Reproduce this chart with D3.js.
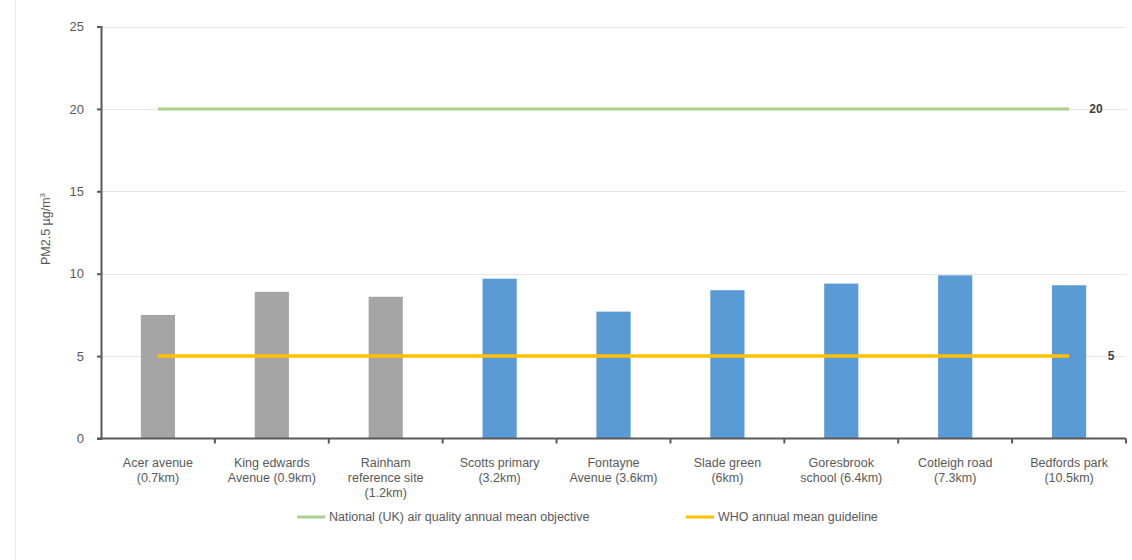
<!DOCTYPE html>
<html><head><meta charset="utf-8">
<script src="https://cdn.jsdelivr.net/npm/d3@7"></script>
<style>body{margin:0;background:#fff}svg{display:block}text{font-family:"Liberation Sans",Arial,sans-serif;fill:#595959}</style>
</head><body><svg id="c" width="1132" height="560"></svg>
<script>
const categories = [
  ["Acer avenue","(0.7km)"],
  ["King edwards","Avenue (0.9km)"],
  ["Rainham","reference site","(1.2km)"],
  ["Scotts primary","(3.2km)"],
  ["Fontayne","Avenue (3.6km)"],
  ["Slade green","(6km)"],
  ["Goresbrook","school (6.4km)"],
  ["Cotleigh road","(7.3km)"],
  ["Bedfords park","(10.5km)"]
];
const pmValues = [7.5, 8.9, 8.6, 9.7, 7.7, 9.0, 9.4, 9.9, 9.3];
const siteGroup = ["ref","ref","ref","site","site","site","site","site","site"];
const ukObjective = [20,20,20,20,20,20,20,20,20];
const whoGuideline = [5,5,5,5,5,5,5,5,5];
const yTicks = [0,5,10,15,20,25];
const seriesNames = ["National (UK) air quality annual mean objective","WHO annual mean guideline"];

const svg = d3.select("#c");
const m = {l:101, r:1126, t:26.5, b:438.5};
const keys = categories.map((d,i)=>i);
const x = d3.scaleBand().domain(keys).range([m.l,m.r]).paddingInner(0.7).paddingOuter(0.35);
const y = d3.scaleLinear().domain([0,25]).range([m.b,m.t]);

// faint left border
svg.append("line").attr("x1",15.5).attr("x2",15.5).attr("y1",0).attr("y2",560).attr("stroke","#ececec");

// gridlines
svg.append("g").selectAll("line").data(yTicks.filter(d=>d>0)).join("line")
  .attr("x1",m.l).attr("x2",m.r).attr("y1",d=>Math.round(y(d))+0.5).attr("y2",d=>Math.round(y(d))+0.5)
  .attr("stroke","#e6e6e6").attr("stroke-width",1);

// bars
const colors = {ref:"#a5a5a5", site:"#5b9bd5"};
svg.append("g").selectAll("rect").data(pmValues).join("rect")
  .attr("x",(d,i)=>x(i)).attr("width",x.bandwidth())
  .attr("y",d=>y(d)).attr("height",d=>y(0)-y(d))
  .attr("fill",(d,i)=>colors[siteGroup[i]]);

// lines
const cx = i => x(i)+x.bandwidth()/2;
const lineGen = d3.line().x((d,i)=>cx(i)).y(d=>y(d));
svg.append("path").datum(ukObjective).attr("d",lineGen).attr("fill","none").attr("stroke","#a9d18e").attr("stroke-width",3);
svg.append("path").datum(whoGuideline).attr("d",lineGen).attr("fill","none").attr("stroke","#ffc000").attr("stroke-width",3.5);

// data labels
svg.append("text").attr("x",1096).attr("y",y(20)).attr("dy","0.35em").attr("text-anchor","middle")
  .style("font-weight","bold").style("fill","#404040").style("font-size","12px").text(ukObjective[ukObjective.length-1]);
svg.append("text").attr("x",1111).attr("y",y(5)).attr("dy","0.35em").attr("text-anchor","middle")
  .style("font-weight","bold").style("fill","#404040").style("font-size","12px").text(whoGuideline[whoGuideline.length-1]);

// y axis
const ya = svg.append("g").attr("transform",`translate(${m.l},0)`)
  .call(d3.axisLeft(y).tickValues(yTicks).tickSize(4).tickPadding(13));
ya.selectAll("path,line").attr("stroke","#595959").attr("stroke-width",2);
ya.selectAll("text").style("font-size","13px").style("fill","#595959").style("font-family","'Liberation Sans',Arial,sans-serif");

// x axis
const xa = svg.append("g").attr("transform",`translate(0,${m.b})`);
xa.append("line").attr("x1",m.l-4).attr("x2",m.r).attr("stroke","#595959").attr("stroke-width",2);
const tickXs = d3.range(1, categories.length+1).map(i => m.l + i*(m.r-m.l)/categories.length);
xa.selectAll(".tk").data(tickXs).join("line").attr("class","tk")
  .attr("x1",d=>d).attr("x2",d=>d).attr("y1",0).attr("y2",5).attr("stroke","#595959").attr("stroke-width",2);
const lab = svg.append("g").selectAll("text").data(categories).join("text")
  .attr("x",(d,i)=>cx(i)).attr("y",467).attr("text-anchor","middle").style("font-size","12.5px");
lab.selectAll("tspan").data(d=>d).join("tspan").attr("x",function(){return this.parentNode.getAttribute("x");})
  .attr("dy",(d,j)=>j===0?0:"1.2em").text(d=>d);

// y title
svg.append("text").attr("transform","translate(50,229) rotate(-90)").attr("text-anchor","middle")
  .style("font-size","12.5px").html('PM2.5 µg/m<tspan dy="-5" font-size="8">3</tspan>');

// legend
const leg = svg.append("g");
const legItems = [{name:seriesNames[0],color:"#a9d18e",x:297},{name:seriesNames[1],color:"#ffc000",x:686}];
legItems.forEach(it=>{
  leg.append("line").attr("x1",it.x).attr("x2",it.x+28).attr("y1",517).attr("y2",517).attr("stroke",it.color).attr("stroke-width",3);
  leg.append("text").attr("x",it.x+32).attr("y",517).attr("dy","0.35em").style("font-size","12.5px").text(it.name);
});
</script></body></html>
